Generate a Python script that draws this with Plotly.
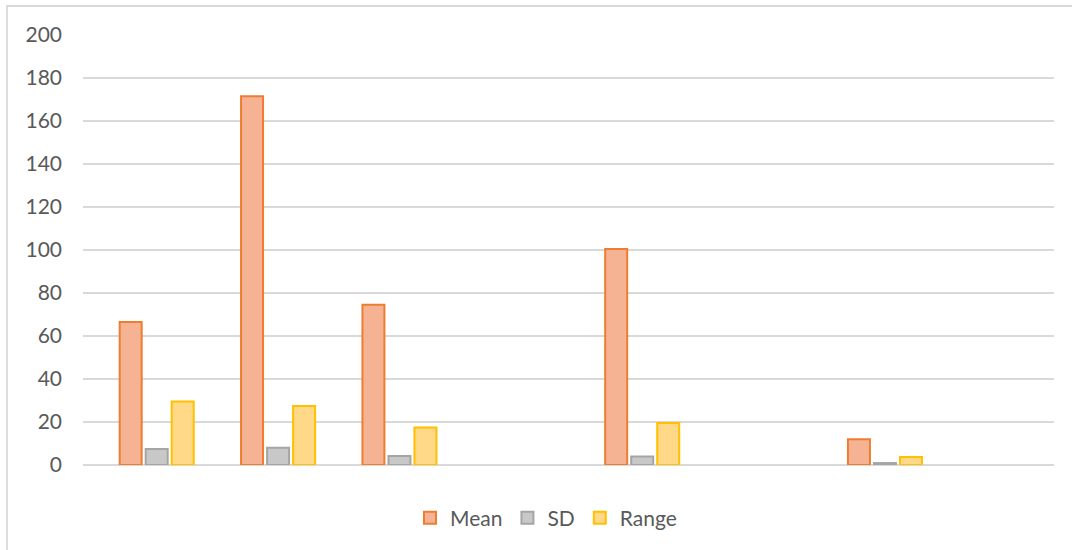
import plotly.graph_objects as go

# ---- data ----
categories = ["1", "2", "3", "4", "5", "6", "7", "8"]
blank = [None] * 8
mean = [66.5, 171.5, 74.5, None, 100.5, None, 12, None]
sd = [7.5, 8.0, 4.2, None, 3.9, None, 0.9, None]
rng = [29.5, 27.5, 17.5, None, 19.5, None, 3.7, None]
y_ticks = [0, 20, 40, 60, 80, 100, 120, 140, 160, 180, 200]

W, H = 1072, 550
ML, MR, MT, MB = 83, 18, 35, 85
FONT = "Lato"
GRAY = "#595959"
GRID = "#D9D9D9"

fig = go.Figure()
fig.add_trace(go.Bar(x=categories, y=blank, name="", showlegend=False,
                     marker=dict(color="rgba(0,0,0,0)")))
fig.add_trace(go.Bar(x=categories, y=mean, name="Mean",
                     marker=dict(color="#F5B393", line=dict(color="#ED7D31", width=2))))
fig.add_trace(go.Bar(x=categories, y=sd, name="SD",
                     marker=dict(color="#C8C8C8", line=dict(color="#A5A5A5", width=2))))
fig.add_trace(go.Bar(x=categories, y=rng, name="Range",
                     marker=dict(color="#FFD888", line=dict(color="#FFC000", width=2))))

pw = W - ML - MR
ph = H - MT - MB


def px_x(x):
    return (x - ML) / pw


def px_y(y):
    return (H - MB - y) / ph


fig.add_shape(type="rect", xref="paper", yref="paper",
              x0=px_x(7), x1=px_x(W + 10), y0=px_y(H + 10), y1=px_y(6),
              line=dict(color=GRID, width=1.8), layer="below")

fig.update_layout(
    width=W, height=H,
    margin=dict(l=ML, r=MR, t=MT, b=MB),
    paper_bgcolor="white", plot_bgcolor="white",
    barmode="group", bargap=0.1427, bargroupgap=0.154,
    font=dict(family=FONT, size=21, color=GRAY),
    xaxis=dict(range=[-0.5, 7.5], showticklabels=False, showgrid=False,
               zeroline=False, showline=False, ticks=""),
    yaxis=dict(range=[0, 200], tickvals=y_ticks, showgrid=True, gridcolor=GRID,
               gridwidth=1.8, zeroline=True, zerolinecolor=GRID, zerolinewidth=1.8,
               showline=False, ticks="", ticklabelstandoff=20,
               tickfont=dict(family=FONT, size=21, color=GRAY)),
    legend=dict(orientation="h", x=px_x(546), xanchor="center",
                y=px_y(518), yanchor="middle",
                font=dict(family=FONT, size=21, color=GRAY), itemwidth=30,
                traceorder="normal"),
    showlegend=True,
)

fig.write_html("out.html")
